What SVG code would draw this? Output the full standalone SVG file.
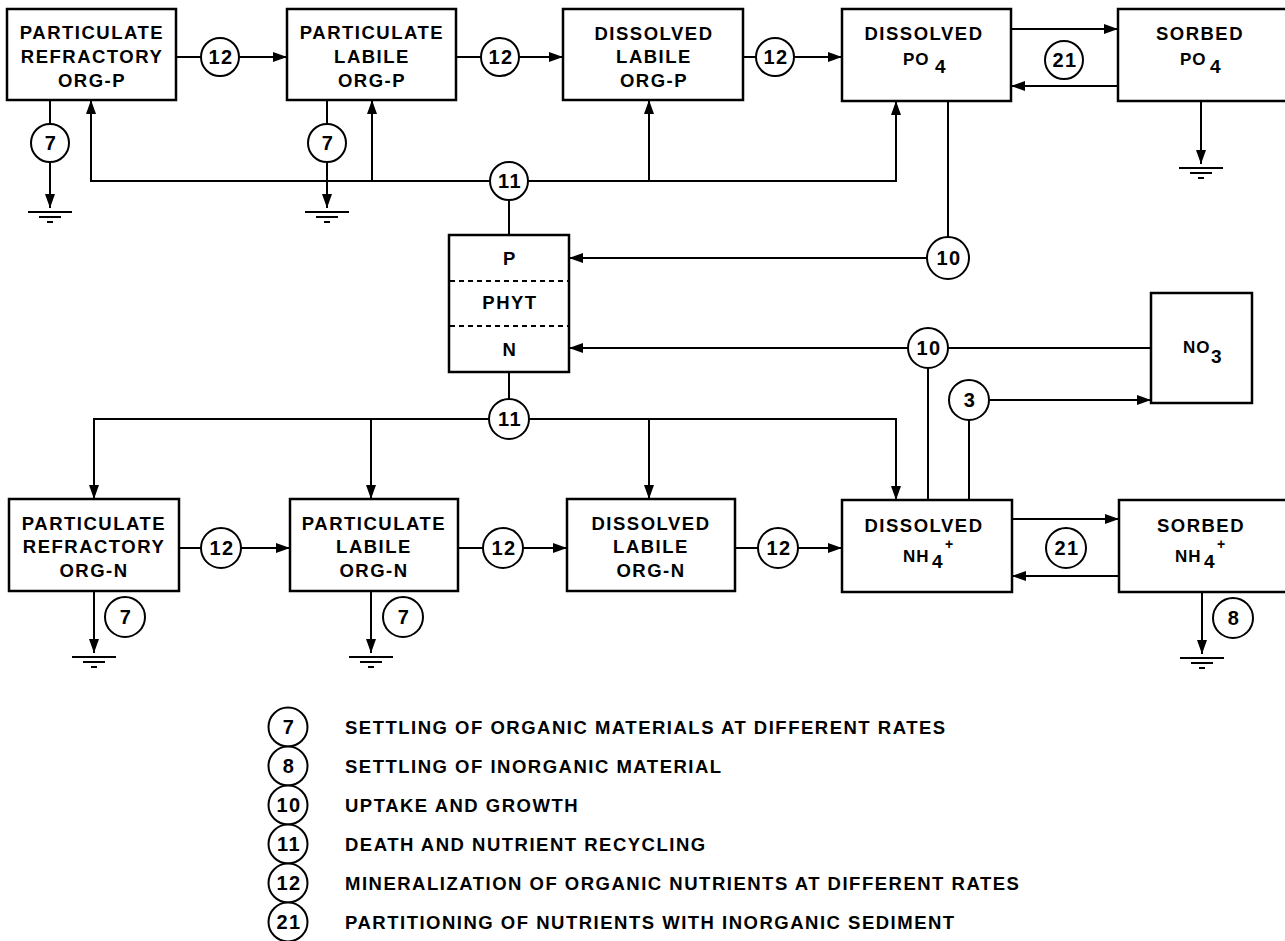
<svg xmlns="http://www.w3.org/2000/svg" width="1285" height="941" viewBox="0 0 1285 941">
<style>
.box{fill:#fff;stroke:#000;stroke-width:2.5}
.ln{fill:none;stroke:#000;stroke-width:2}
.ar{marker-end:url(#ah)}
.rc{fill:#fff;stroke:#000;stroke-width:2}
.dash{stroke:#000;stroke-width:2;stroke-dasharray:5 4}
.t{font-family:"Liberation Sans",Arial,sans-serif;font-weight:bold;font-size:18.5px;letter-spacing:1.5px;text-anchor:middle;fill:#000}
.s{font-family:"Liberation Sans",Arial,sans-serif;font-weight:bold;font-size:17px;letter-spacing:1px;fill:#000}
.n{font-family:"Liberation Sans",Arial,sans-serif;font-weight:bold;font-size:20px;letter-spacing:1.5px;text-anchor:middle;fill:#000}
.lg{font-family:"Liberation Sans",Arial,sans-serif;font-weight:bold;font-size:18.5px;letter-spacing:1.5px;fill:#000}
</style>
<defs>
<marker id="ah" viewBox="0 0 14 10" refX="14" refY="5" markerWidth="14" markerHeight="10" markerUnits="userSpaceOnUse" orient="auto"><path d="M0,0 L14,5 L0,10 z" fill="#000"/></marker>
<g id="gnd"><path d="M-22,0 H22 M-11,5 H11 M-3,10 H3" stroke="#000" stroke-width="2" fill="none"/></g>
</defs>
<rect width="1285" height="941" fill="#fff"/>

<g id="connectors">
<path class="ln" d="M176,57 H201"/><path class="ln ar" d="M239,57 H287"/>
<path class="ln" d="M456,57 H481"/><path class="ln ar" d="M519,57 H563"/>
<path class="ln" d="M743,57 H756"/><path class="ln ar" d="M794,57 H842"/>
<path class="ln ar" d="M1011,29 H1118"/><path class="ln ar" d="M1118,86 H1011"/>
<path class="ln" d="M50,100 V124"/><path class="ln ar" d="M50,162 V208"/>
<path class="ln" d="M327,100 V124"/><path class="ln ar" d="M327,162 V208"/>
<path class="ln ar" d="M1201,101 V164"/>
<path class="ln ar" d="M490,181 H91 V100"/><path class="ln ar" d="M372,181 V100"/>
<path class="ln ar" d="M528,181 H896 V101"/><path class="ln ar" d="M649,181 V100"/>
<path class="ln" d="M509,200 V235"/>
<path class="ln" d="M948,101 V237"/><path class="ln ar" d="M927,258 H569"/>
<path class="ln ar" d="M908,348 H569"/><path class="ln" d="M948,348 H1151"/>
<path class="ln" d="M928,368 V500"/>
<path class="ln ar" d="M989,400 H1151"/><path class="ln" d="M969,420 V500"/>
<path class="ln" d="M509,372 V399"/>
<path class="ln ar" d="M489,419 H94 V499"/><path class="ln ar" d="M371,419 V499"/>
<path class="ln ar" d="M529,419 H896 V500"/><path class="ln ar" d="M649,419 V499"/>
<path class="ln" d="M179,548 H201"/><path class="ln ar" d="M241,548 H290"/>
<path class="ln" d="M458,548 H483"/><path class="ln ar" d="M523,548 H567"/>
<path class="ln" d="M735,548 H758"/><path class="ln ar" d="M798,548 H842"/>
<path class="ln ar" d="M1012,519 H1119"/><path class="ln ar" d="M1119,576 H1012"/>
<path class="ln ar" d="M94,591 V653"/><path class="ln ar" d="M371,591 V653"/><path class="ln ar" d="M1202,592 V654"/>
<use href="#gnd" x="50" y="212"/><use href="#gnd" x="327" y="212"/><use href="#gnd" x="1201" y="168"/>
<use href="#gnd" x="94" y="657"/><use href="#gnd" x="371" y="657"/><use href="#gnd" x="1202" y="658"/>
</g>

<g id="rate-labels">
<g id="r12a"><circle class="rc" cx="220" cy="57" r="19"/><text class="n" x="221" y="64">12</text></g>
<g id="r12b"><circle class="rc" cx="500" cy="57" r="19"/><text class="n" x="501" y="64">12</text></g>
<g id="r12c"><circle class="rc" cx="775" cy="57" r="19"/><text class="n" x="776" y="64">12</text></g>
<g id="r7a"><circle class="rc" cx="50" cy="143" r="19"/><text class="n" x="51" y="150">7</text></g>
<g id="r7b"><circle class="rc" cx="327" cy="143" r="19"/><text class="n" x="328" y="150">7</text></g>
<g id="r21a"><circle class="rc" cx="1064" cy="60" r="19"/><text class="n" x="1065" y="67">21</text></g>
<g id="r11a"><circle class="rc" cx="509" cy="181" r="19"/><text class="n" x="510" y="188">11</text></g>
<g id="r10a"><circle class="rc" cx="948" cy="258" r="21"/><text class="n" x="949" y="265">10</text></g>
<g id="r10b"><circle class="rc" cx="928" cy="348" r="20"/><text class="n" x="929" y="355">10</text></g>
<g id="r3"><circle class="rc" cx="969" cy="400" r="20"/><text class="n" x="970" y="407">3</text></g>
<g id="r11b"><circle class="rc" cx="509" cy="419" r="20"/><text class="n" x="510" y="426">11</text></g>
<g id="r12d"><circle class="rc" cx="221" cy="548" r="20"/><text class="n" x="222" y="555">12</text></g>
<g id="r12e"><circle class="rc" cx="503" cy="548" r="20"/><text class="n" x="504" y="555">12</text></g>
<g id="r12f"><circle class="rc" cx="778" cy="548" r="20"/><text class="n" x="779" y="555">12</text></g>
<g id="r21b"><circle class="rc" cx="1066" cy="548" r="20"/><text class="n" x="1067" y="555">21</text></g>
<g id="r7c"><circle class="rc" cx="125" cy="617" r="20"/><text class="n" x="126" y="624">7</text></g>
<g id="r7d"><circle class="rc" cx="403" cy="617" r="20"/><text class="n" x="404" y="624">7</text></g>
<g id="r8"><circle class="rc" cx="1233" cy="618" r="20"/><text class="n" x="1234" y="625">8</text></g>
</g>

<g id="prp"><rect class="box" x="7" y="9" width="169" height="91"/><text class="t" x="92" y="39">PARTICULATE</text><text class="t" x="92" y="63">REFRACTORY</text><text class="t" x="92" y="87">ORG-P</text></g>
<g id="plp"><rect class="box" x="287" y="9" width="169" height="91"/><text class="t" x="372" y="39">PARTICULATE</text><text class="t" x="372" y="63">LABILE</text><text class="t" x="372" y="87">ORG-P</text></g>
<g id="dlp"><rect class="box" x="563" y="9" width="180" height="91"/><text class="t" x="654" y="40">DISSOLVED</text><text class="t" x="654" y="63">LABILE</text><text class="t" x="654" y="87">ORG-P</text></g>
<g id="dpo4"><rect class="box" x="842" y="9" width="169" height="92"/><text class="t" x="924" y="40">DISSOLVED</text><text class="s"><tspan x="903" y="65">PO</tspan><tspan x="935" y="73" font-size="19">4</tspan></text></g>
<g id="spo4"><rect class="box" x="1118" y="9" width="185" height="92"/><text class="t" x="1200" y="40">SORBED</text><text class="s"><tspan x="1180" y="65">PO</tspan><tspan x="1210" y="73" font-size="19">4</tspan></text></g>
<g id="phyt"><rect class="box" x="449" y="235" width="120" height="137"/><line class="dash" x1="450" y1="281" x2="568" y2="281"/><line class="dash" x1="450" y1="326" x2="568" y2="326"/><text class="t" x="510" y="265">P</text><text class="t" x="510" y="309">PHYT</text><text class="t" x="510" y="356">N</text></g>
<g id="no3"><rect class="box" x="1151" y="293" width="101" height="110"/><text class="s"><tspan x="1183" y="353">NO</tspan><tspan x="1211" y="363" font-size="19">3</tspan></text></g>
<g id="prn"><rect class="box" x="9" y="499" width="170" height="92"/><text class="t" x="94" y="530">PARTICULATE</text><text class="t" x="94" y="553">REFRACTORY</text><text class="t" x="94" y="577">ORG-N</text></g>
<g id="pln"><rect class="box" x="290" y="499" width="168" height="92"/><text class="t" x="374" y="530">PARTICULATE</text><text class="t" x="374" y="553">LABILE</text><text class="t" x="374" y="577">ORG-N</text></g>
<g id="dln"><rect class="box" x="567" y="499" width="168" height="92"/><text class="t" x="651" y="530">DISSOLVED</text><text class="t" x="651" y="553">LABILE</text><text class="t" x="651" y="577">ORG-N</text></g>
<g id="dnh4"><rect class="box" x="842" y="500" width="170" height="92"/><text class="t" x="924" y="532">DISSOLVED</text><text class="s"><tspan x="903" y="562">NH</tspan><tspan x="932" y="568" font-size="19">4</tspan><tspan x="945" y="549" font-size="14">+</tspan></text></g>
<g id="snh4"><rect class="box" x="1119" y="500" width="185" height="92"/><text class="t" x="1201" y="532">SORBED</text><text class="s"><tspan x="1175" y="562">NH</tspan><tspan x="1204" y="568" font-size="19">4</tspan><tspan x="1217" y="549" font-size="14">+</tspan></text></g>

<g id="legend">
<circle class="rc" cx="288" cy="727" r="19.5"/><text class="n" x="289" y="734">7</text><text class="lg" x="345" y="734">SETTLING OF ORGANIC MATERIALS AT DIFFERENT RATES</text>
<circle class="rc" cx="288" cy="766" r="19.5"/><text class="n" x="289" y="773">8</text><text class="lg" x="345" y="773">SETTLING OF INORGANIC MATERIAL</text>
<circle class="rc" cx="288" cy="805" r="19.5"/><text class="n" x="289" y="812">10</text><text class="lg" x="345" y="812">UPTAKE AND GROWTH</text>
<circle class="rc" cx="288" cy="844" r="19.5"/><text class="n" x="289" y="851">11</text><text class="lg" x="345" y="851">DEATH AND NUTRIENT RECYCLING</text>
<circle class="rc" cx="288" cy="883" r="19.5"/><text class="n" x="289" y="890">12</text><text class="lg" x="345" y="890">MINERALIZATION OF ORGANIC NUTRIENTS AT DIFFERENT RATES</text>
<circle class="rc" cx="288" cy="922" r="19.5"/><text class="n" x="289" y="929">21</text><text class="lg" x="345" y="929">PARTITIONING OF NUTRIENTS WITH INORGANIC SEDIMENT</text>
</g>
</svg>
